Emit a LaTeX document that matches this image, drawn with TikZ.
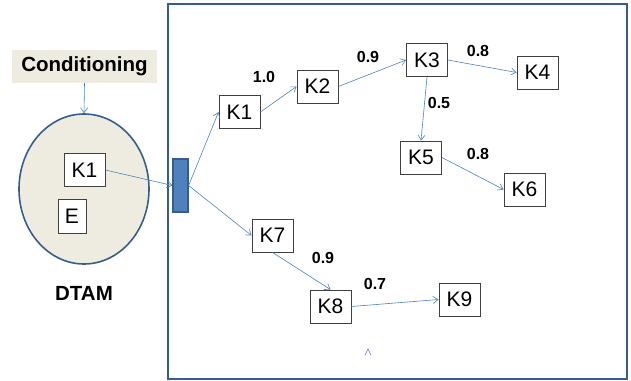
\documentclass[tikz,border=0pt]{standalone}
\usepackage{fontspec}
\setmainfont{Liberation Sans}
\usepackage{tikz}
\usetikzlibrary{arrows.meta,shapes.geometric,positioning}
\definecolor{lineblue}{RGB}{79,129,189}
\definecolor{darkblue}{RGB}{56,93,138}
\definecolor{paper}{RGB}{238,236,225}

\begin{document}
\begin{tikzpicture}[
    x=1pt,y=-1pt,
    kbox/.style={rectangle,draw=black!75,fill=white,line width=0.9pt,
                 minimum width=41pt,minimum height=33pt,inner sep=0pt,
                 font=\fontsize{21}{22}\selectfont},
    wt/.style={font=\bfseries\fontsize{16}{17}\selectfont,inner sep=0pt},
    ar/.style={-{Straight Barb[length=5pt,width=7pt]},lineblue,line width=0.6pt}
  ]
  \useasboundingbox (0,0) rectangle (631,380);

  % DTAM side
  \node[fill=paper,minimum width=145pt,minimum height=33pt,inner sep=0pt,
        font=\bfseries\fontsize{20.5}{21}\selectfont] (cond) at (84.5,66.5) {Conditioning};
  \node[ellipse,draw=darkblue,fill=paper,line width=1.6pt,
        minimum width=130pt,minimum height=150pt] (dtam) at (84,189) {};
  \node[kbox] (dk1) at (84.5,170) {K1};
  \node[kbox,minimum width=28pt,minimum height=34pt] (de) at (72,216) {E};
  \node[font=\bfseries\fontsize{20.5}{21}\selectfont] (dname) at (84,293) {DTAM};

  % frame and gate
  \draw[darkblue,line width=1.6pt] (168,4) rectangle (627,379);
  \node[rectangle,draw=darkblue,fill=lineblue,line width=1.2pt,
        minimum width=15pt,minimum height=53pt,inner sep=0pt] (gate) at (180.5,185.5) {};

  % knowledge nodes
  \node[kbox] (k1) at (239.5,112) {K1};
  \node[kbox] (k2) at (317.5,86.5) {K2};
  \node[kbox] (k3) at (427,60) {K3};
  \node[kbox] (k4) at (537.5,72.5) {K4};
  \node[kbox] (k5) at (421,157.5) {K5};
  \node[kbox] (k6) at (524.5,189.5) {K6};
  \node[kbox] (k7) at (272.5,235.5) {K7};
  \node[kbox] (k8) at (330.5,306.5) {K8};
  \node[kbox] (k9) at (459.5,299.5) {K9};

  % weights
  \node[wt] (w12) at (264,77) {1.0};
  \node[wt] (w23) at (368,57) {0.9};
  \node[wt] (w34) at (478,51) {0.8};
  \node[wt] (w35) at (439,103) {0.5};
  \node[wt] (w56) at (478,154) {0.8};
  \node[wt] (w78) at (323,258) {0.9};
  \node[wt] (w89) at (375,284) {0.7};

  \draw[ar] (cond.south) -- (dtam.north);
  \draw[ar] (dk1.east) -- (gate.west);
  \draw[ar] (gate.east) -- (k1.west);
  \draw[ar] (gate.east) -- (k7.west);
  \draw[ar] (k1.east) -- (k2.west);
  \draw[ar] (k2.east) -- (k3.west);
  \draw[ar] (k3.east) -- (k4.west);
  \draw[ar] (k3.south) -- (k5.north);
  \draw[ar] (k5.east) -- (k6.west);
  \draw[ar] (k7.south) -- (k8.north);
  \draw[ar] (k8.east) -- (k9.west);

  % stray mark
  \draw[lineblue,line width=0.6pt] (365,355) -- (368,349) -- (371,355);
\end{tikzpicture}
\end{document}
